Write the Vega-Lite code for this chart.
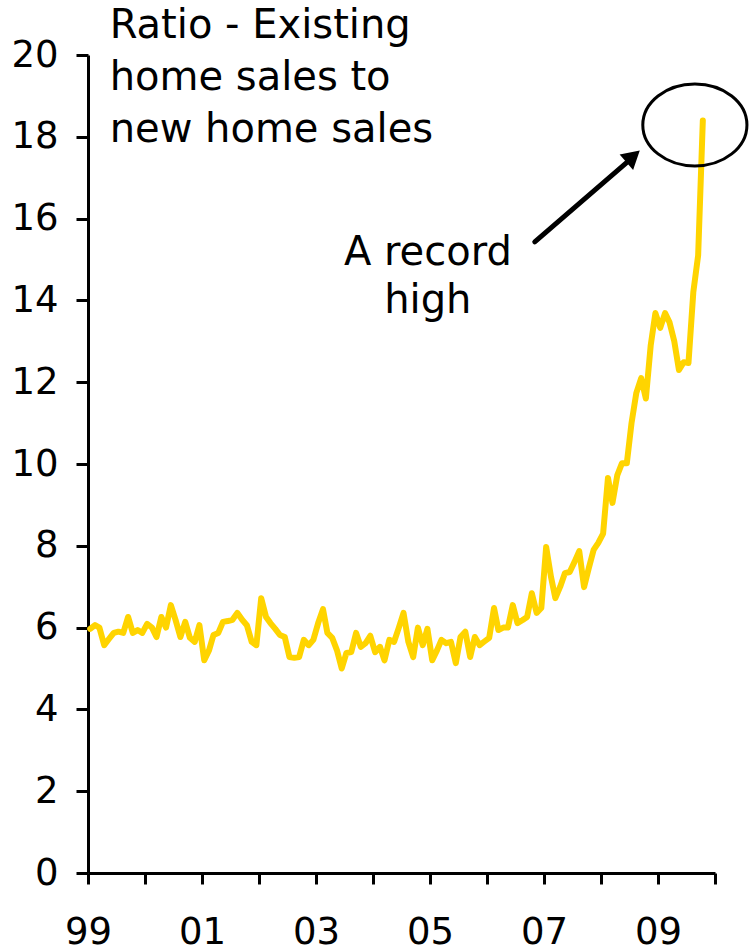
{
  "$schema": "https://vega.github.io/schema/vega-lite/v6.json",
  "width": 627,
  "height": 818,
  "autosize": "none",
  "padding": {"left": 88, "top": 55, "right": 34, "bottom": 78},
  "background": "white",
  "config": {
    "view": {"stroke": null},
    "font": "DejaVu Sans",
    "axis": {
      "domainColor": "black", "domainWidth": 3, "tickColor": "black", "tickWidth": 3,
      "labelColor": "black", "labelFont": "DejaVu Sans", "labelFontSize": 37, "grid": false, "title": null
    }
  },
  "datasets": {
    "series": [
      {"date":"1999-01-15","ratio":5.97},{"date":"1999-02-15","ratio":6.06},{"date":"1999-03-15","ratio":6.0},{"date":"1999-04-15","ratio":5.57},{"date":"1999-05-15","ratio":5.72},{"date":"1999-06-15","ratio":5.87},{"date":"1999-07-15","ratio":5.9},{"date":"1999-08-15","ratio":5.87},{"date":"1999-09-15","ratio":6.26},{"date":"1999-10-15","ratio":5.87},{"date":"1999-11-15","ratio":5.94},{"date":"1999-12-15","ratio":5.87},
      {"date":"2000-01-15","ratio":6.09},{"date":"2000-02-15","ratio":6.0},{"date":"2000-03-15","ratio":5.77},{"date":"2000-04-15","ratio":6.26},{"date":"2000-05-15","ratio":6.0},{"date":"2000-06-15","ratio":6.55},{"date":"2000-07-15","ratio":6.19},{"date":"2000-08-15","ratio":5.77},{"date":"2000-09-15","ratio":6.14},{"date":"2000-10-15","ratio":5.75},{"date":"2000-11-15","ratio":5.65},{"date":"2000-12-15","ratio":6.06},
      {"date":"2001-01-15","ratio":5.2},{"date":"2001-02-15","ratio":5.45},{"date":"2001-03-15","ratio":5.82},{"date":"2001-04-15","ratio":5.87},{"date":"2001-05-15","ratio":6.14},{"date":"2001-06-15","ratio":6.16},{"date":"2001-07-15","ratio":6.19},{"date":"2001-08-15","ratio":6.36},{"date":"2001-09-15","ratio":6.19},{"date":"2001-10-15","ratio":6.06},{"date":"2001-11-15","ratio":5.65},{"date":"2001-12-15","ratio":5.57},
      {"date":"2002-01-15","ratio":6.72},{"date":"2002-02-15","ratio":6.26},{"date":"2002-03-15","ratio":6.11},{"date":"2002-04-15","ratio":5.97},{"date":"2002-05-15","ratio":5.82},{"date":"2002-06-15","ratio":5.77},{"date":"2002-07-15","ratio":5.28},{"date":"2002-08-15","ratio":5.26},{"date":"2002-09-15","ratio":5.28},{"date":"2002-10-15","ratio":5.7},{"date":"2002-11-15","ratio":5.57},{"date":"2002-12-15","ratio":5.7},
      {"date":"2003-01-15","ratio":6.11},{"date":"2003-02-15","ratio":6.45},{"date":"2003-03-15","ratio":5.87},{"date":"2003-04-15","ratio":5.75},{"date":"2003-05-15","ratio":5.45},{"date":"2003-06-15","ratio":5.0},{"date":"2003-07-15","ratio":5.38},{"date":"2003-08-15","ratio":5.4},{"date":"2003-09-15","ratio":5.87},{"date":"2003-10-15","ratio":5.53},{"date":"2003-11-15","ratio":5.62},{"date":"2003-12-15","ratio":5.8},
      {"date":"2004-01-15","ratio":5.4},{"date":"2004-02-15","ratio":5.53},{"date":"2004-03-15","ratio":5.2},{"date":"2004-04-15","ratio":5.7},{"date":"2004-05-15","ratio":5.65},{"date":"2004-06-15","ratio":6.0},{"date":"2004-07-15","ratio":6.36},{"date":"2004-08-15","ratio":5.65},{"date":"2004-09-15","ratio":5.28},{"date":"2004-10-15","ratio":6.0},{"date":"2004-11-15","ratio":5.57},{"date":"2004-12-15","ratio":5.97},
      {"date":"2005-01-15","ratio":5.2},{"date":"2005-02-15","ratio":5.45},{"date":"2005-03-15","ratio":5.7},{"date":"2005-04-15","ratio":5.62},{"date":"2005-05-15","ratio":5.65},{"date":"2005-06-15","ratio":5.13},{"date":"2005-07-15","ratio":5.77},{"date":"2005-08-15","ratio":5.9},{"date":"2005-09-15","ratio":5.28},{"date":"2005-10-15","ratio":5.77},{"date":"2005-11-15","ratio":5.57},{"date":"2005-12-15","ratio":5.66},
      {"date":"2006-01-15","ratio":5.75},{"date":"2006-02-15","ratio":6.48},{"date":"2006-03-15","ratio":5.94},{"date":"2006-04-15","ratio":6.0},{"date":"2006-05-15","ratio":6.0},{"date":"2006-06-15","ratio":6.55},{"date":"2006-07-15","ratio":6.11},{"date":"2006-08-15","ratio":6.18},{"date":"2006-09-15","ratio":6.26},{"date":"2006-10-15","ratio":6.84},{"date":"2006-11-15","ratio":6.36},{"date":"2006-12-15","ratio":6.48},
      {"date":"2007-01-15","ratio":7.97},{"date":"2007-02-15","ratio":7.24},{"date":"2007-03-15","ratio":6.72},{"date":"2007-04-15","ratio":7.0},{"date":"2007-05-15","ratio":7.33},{"date":"2007-06-15","ratio":7.36},{"date":"2007-07-15","ratio":7.6},{"date":"2007-08-15","ratio":7.87},{"date":"2007-09-15","ratio":6.99},{"date":"2007-10-15","ratio":7.45},{"date":"2007-11-15","ratio":7.9},{"date":"2007-12-15","ratio":8.07},
      {"date":"2008-01-15","ratio":8.3},{"date":"2008-02-15","ratio":9.66},{"date":"2008-03-15","ratio":9.05},{"date":"2008-04-15","ratio":9.73},{"date":"2008-05-15","ratio":10.02},{"date":"2008-06-15","ratio":10.02},{"date":"2008-07-15","ratio":11.0},{"date":"2008-08-15","ratio":11.74},{"date":"2008-09-15","ratio":12.1},{"date":"2008-10-15","ratio":11.6},{"date":"2008-11-15","ratio":12.9},{"date":"2008-12-15","ratio":13.69},
      {"date":"2009-01-15","ratio":13.33},{"date":"2009-02-15","ratio":13.69},{"date":"2009-03-15","ratio":13.47},{"date":"2009-04-15","ratio":13.0},{"date":"2009-05-15","ratio":12.3},{"date":"2009-06-15","ratio":12.49},{"date":"2009-07-15","ratio":12.47},{"date":"2009-08-15","ratio":14.2},{"date":"2009-09-15","ratio":15.1},{"date":"2009-10-15","ratio":18.4}
    ],
    "titleLines": [
      {"date":"1999-05-20","ratio":20.42,"label":"Ratio - Existing"},
      {"date":"1999-05-20","ratio":19.14,"label":"home sales to"},
      {"date":"1999-05-20","ratio":17.87,"label":"new home sales"}
    ],
    "noteLines": [
      {"date":"2004-12-18","ratio":14.87,"label":"A record"},
      {"date":"2004-12-18","ratio":13.69,"label":"high"}
    ],
    "arrow": [
      {"date":"2006-11-03","ratio":15.43,"date2":"2008-07-17","ratio2":17.48}
    ],
    "head": [
      {"date":"2008-07-25","ratio":17.52}
    ],
    "ring": [
      {"date":"2009-08-25","ratio":18.29}
    ]
  },
  "layer": [
    {
      "data": {"name": "series"},
      "mark": {"type": "line", "color": "#FFD400", "strokeWidth": 6, "strokeJoin": "round", "strokeCap": "round"},
      "encoding": {
        "x": {
          "field": "date", "type": "temporal",
          "scale": {"type": "utc", "domain": [{"year":1999,"month":1,"date":1,"utc":true},{"year":2010,"month":1,"date":1,"utc":true}]},
          "axis": {
            "values": [
              {"year":1999,"month":1,"date":1,"utc":true},{"year":2000,"month":1,"date":1,"utc":true},{"year":2001,"month":1,"date":1,"utc":true},{"year":2002,"month":1,"date":1,"utc":true},{"year":2003,"month":1,"date":1,"utc":true},{"year":2004,"month":1,"date":1,"utc":true},{"year":2005,"month":1,"date":1,"utc":true},{"year":2006,"month":1,"date":1,"utc":true},{"year":2007,"month":1,"date":1,"utc":true},{"year":2008,"month":1,"date":1,"utc":true},{"year":2009,"month":1,"date":1,"utc":true},{"year":2010,"month":1,"date":1,"utc":true}
            ],
            "labelExpr": "utcyear(datum.value) % 2 == 1 ? utcFormat(datum.value, '%y') : ''",
            "tickSize": 11, "labelPadding": 30, "labelFlush": false, "labelOverlap": false
          }
        },
        "y": {
          "field": "ratio", "type": "quantitative",
          "scale": {"domain": [0, 20], "nice": false, "zero": true},
          "axis": {"values": [0,2,4,6,8,10,12,14,16,18,20], "tickSize": 12, "labelPadding": 18}
        }
      }
    },
    {
      "data": {"name": "titleLines"},
      "mark": {"type": "text", "align": "left", "baseline": "alphabetic", "fontSize": 40, "font": "DejaVu Sans", "color": "black"},
      "encoding": {
        "x": {"field": "date", "type": "temporal"},
        "y": {"field": "ratio", "type": "quantitative"},
        "text": {"field": "label"}
      }
    },
    {
      "data": {"name": "noteLines"},
      "mark": {"type": "text", "align": "center", "baseline": "alphabetic", "fontSize": 40, "font": "DejaVu Sans", "color": "black"},
      "encoding": {
        "x": {"field": "date", "type": "temporal"},
        "y": {"field": "ratio", "type": "quantitative"},
        "text": {"field": "label"}
      }
    },
    {
      "data": {"name": "arrow"},
      "mark": {"type": "rule", "color": "black", "strokeWidth": 5, "strokeCap": "round"},
      "encoding": {
        "x": {"field": "date", "type": "temporal"},
        "y": {"field": "ratio", "type": "quantitative"},
        "x2": {"field": "date2"},
        "y2": {"field": "ratio2"}
      }
    },
    {
      "data": {"name": "head"},
      "mark": {"type": "point", "shape": "triangle-up", "filled": true, "color": "black", "size": 420, "angle": 49, "opacity": 1},
      "encoding": {
        "x": {"field": "date", "type": "temporal"},
        "y": {"field": "ratio", "type": "quantitative"}
      }
    },
    {
      "data": {"name": "ring"},
      "mark": {"type": "point", "shape": "M -1.27 0 A 1.27 1 0 1 0 1.27 0 A 1.27 1 0 1 0 -1.27 0 Z", "filled": false, "stroke": "black", "strokeWidth": 3, "size": 6724, "opacity": 1},
      "encoding": {
        "x": {"field": "date", "type": "temporal"},
        "y": {"field": "ratio", "type": "quantitative"}
      }
    }
  ]
}
